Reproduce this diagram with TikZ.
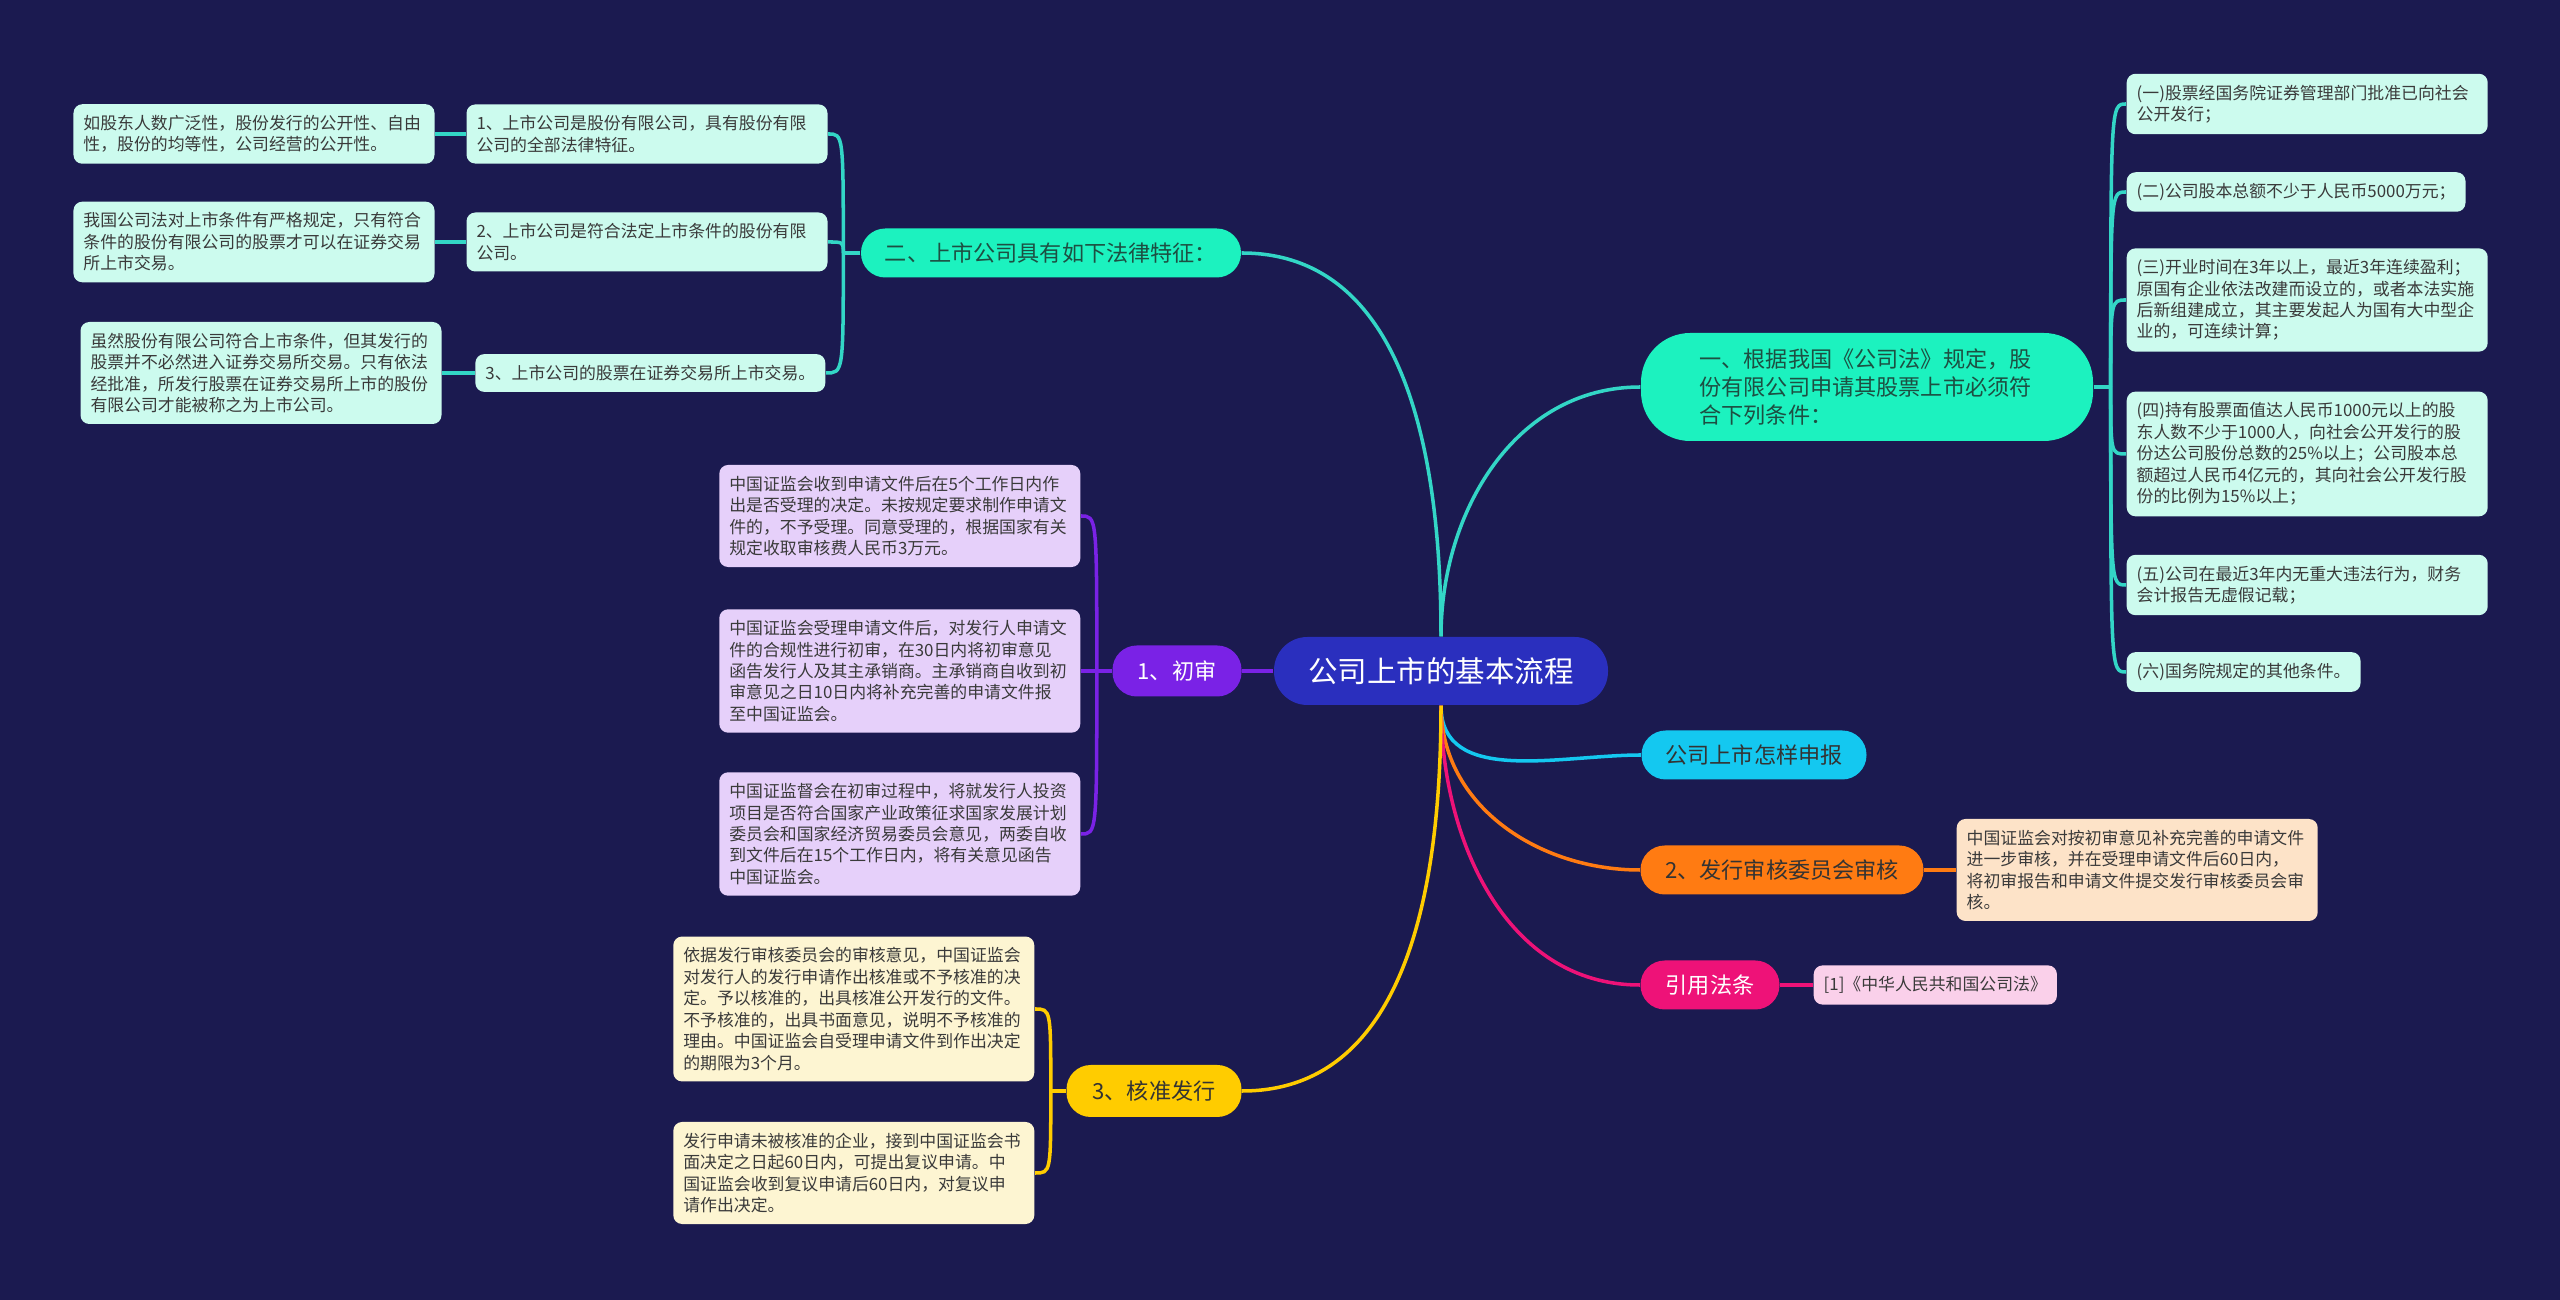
\documentclass[tikz,border=0pt]{standalone}
\usepackage{fontspec}
\setmainfont{Noto Sans CJK SC}
\usepackage{xcolor}
\usepackage{tikz}
\usetikzlibrary{arrows.meta}

\definecolor{bgnavy}{HTML}{1B1A50}
\definecolor{rootblue}{HTML}{2A2FBE}
\definecolor{mint}{HTML}{1CF2BF}
\definecolor{mintdark}{HTML}{1D4F42}
\definecolor{mintedge}{HTML}{33D6C6}
\definecolor{mintleaf}{HTML}{CCFBEE}
\definecolor{cyanfill}{HTML}{14C8F0}
\definecolor{orangefill}{HTML}{FF7B12}
\definecolor{orangeleaf}{HTML}{FDE3C8}
\definecolor{pinkfill}{HTML}{EE1278}
\definecolor{pinkleaf}{HTML}{FAD0EA}
\definecolor{purplefill}{HTML}{7A22E6}
\definecolor{purpleleaf}{HTML}{E6D0FA}
\definecolor{yellowfill}{HTML}{FFCC00}
\definecolor{yellowleaf}{HTML}{FDF5D2}
\definecolor{leaftext}{HTML}{3A3A3A}

\begin{document}
\begin{tikzpicture}[
    rootnode/.style={rectangle, rounded corners=9.5pt, fill=rootblue, text=white,
                     font=\fontsize{8.4}{10}\selectfont, minimum width=3.34cm, minimum height=0.68cm},
    branch/.style={rectangle, rounded corners=6.9pt, minimum height=0.49cm,
                   font=\fontsize{6.3}{8}\selectfont, inner xsep=0.15cm},
    leaf/.style={rectangle, rounded corners=2.5pt, align=left, text=leaftext,
                 font=\fontsize{4.8}{6.1}\selectfont, inner xsep=0.1cm, inner ysep=0.11cm},
    wide/.style={text width=3.41cm},
    edge/.style={line width=1pt}
]
\fill[bgnavy] (0,0) rectangle (25.6,-13);

\node[rootnode] (root) at (14.41,-6.71) {公司上市的基本流程};

\node[branch, fill=mint, text=mintdark, minimum width=4.52cm, minimum height=1.08cm,
      rounded corners=14pt, text width=3.35cm, align=left] (req) at (18.67,-3.87)
      {一、根据我国《公司法》规定，股\\份有限公司申请其股票上市必须符\\合下列条件：};
\node[branch, fill=mint, text=mintdark, minimum width=3.80cm] (feat) at (10.51,-2.53) {二、上市公司具有如下法律特征：};
\node[branch, fill=cyanfill, text=black!80, minimum width=2.25cm] (howto) at (17.54,-7.55) {公司上市怎样申报};
\node[branch, fill=orangefill, text=black!80, minimum width=2.83cm] (review) at (17.82,-8.70) {2、发行审核委员会审核};
\node[branch, fill=pinkfill, text=white, minimum width=1.39cm] (cite) at (17.10,-9.85) {引用法条};
\node[branch, fill=purplefill, text=white, minimum width=1.29cm, minimum height=0.51cm] (first) at (11.77,-6.71) {1、初审};
\node[branch, fill=yellowfill, text=black!80, minimum width=1.75cm, minimum height=0.52cm] (approve) at (11.54,-10.91) {3、核准发行};

\node[leaf, wide, fill=mintleaf] (featnote1) at (2.54,-1.34) {如股东人数广泛性，股份发行的公开性、自由\\性，股份的均等性，公司经营的公开性。};
\node[leaf, wide, fill=mintleaf] (feat1) at (6.47,-1.34) {1、上市公司是股份有限公司，具有股份有限\\公司的全部法律特征。};
\node[leaf, wide, fill=mintleaf] (featnote2) at (2.54,-2.42) {我国公司法对上市条件有严格规定，只有符合\\条件的股份有限公司的股票才可以在证券交易\\所上市交易。};
\node[leaf, wide, fill=mintleaf] (feat2) at (6.47,-2.42) {2、上市公司是符合法定上市条件的股份有限\\公司。};
\node[leaf, wide, fill=mintleaf] (featnote3) at (2.61,-3.73) {虽然股份有限公司符合上市条件，但其发行的\\股票并不必然进入证券交易所交易。只有依法\\经批准，所发行股票在证券交易所上市的股份\\有限公司才能被称之为上市公司。};
\node[leaf, fill=mintleaf, anchor=east] (feat3) at (8.26,-3.73) {3、上市公司的股票在证券交易所上市交易。};

\node[leaf, wide, fill=mintleaf, anchor=west] (req1) at (21.26,-1.04) {(一)股票经国务院证券管理部门批准已向社会\\公开发行；};
\node[leaf, fill=mintleaf, anchor=west] (req2) at (21.26,-1.92) {(二)公司股本总额不少于人民币5000万元；};
\node[leaf, wide, fill=mintleaf, anchor=west] (req3) at (21.26,-3.00) {(三)开业时间在3年以上，最近3年连续盈利；\\原国有企业依法改建而设立的，或者本法实施\\后新组建成立，其主要发起人为国有大中型企\\业的，可连续计算；};
\node[leaf, wide, fill=mintleaf, anchor=west] (req4) at (21.26,-4.54) {(四)持有股票面值达人民币1000元以上的股\\东人数不少于1000人，向社会公开发行的股\\份达公司股份总数的25\%以上；公司股本总\\额超过人民币4亿元的，其向社会公开发行股\\份的比例为15\%以上；};
\node[leaf, wide, fill=mintleaf, anchor=west] (req5) at (21.26,-5.85) {(五)公司在最近3年内无重大违法行为，财务\\会计报告无虚假记载；};
\node[leaf, fill=mintleaf, anchor=west] (req6) at (21.26,-6.72) {(六)国务院规定的其他条件。};

\node[leaf, wide, fill=purpleleaf, anchor=east] (first1) at (10.81,-5.16) {中国证监会收到申请文件后在5个工作日内作\\出是否受理的决定。未按规定要求制作申请文\\件的，不予受理。同意受理的，根据国家有关\\规定收取审核费人民币3万元。};
\node[leaf, wide, fill=purpleleaf, anchor=east] (first2) at (10.81,-6.71) {中国证监会受理申请文件后，对发行人申请文\\件的合规性进行初审，在30日内将初审意见\\函告发行人及其主承销商。主承销商自收到初\\审意见之日10日内将补充完善的申请文件报\\至中国证监会。};
\node[leaf, wide, fill=purpleleaf, anchor=east] (first3) at (10.81,-8.34) {中国证监督会在初审过程中，将就发行人投资\\项目是否符合国家产业政策征求国家发展计划\\委员会和国家经济贸易委员会意见，两委自收\\到文件后在15个工作日内，将有关意见函告\\中国证监会。};

\node[leaf, wide, fill=orangeleaf, anchor=west] (reviewnote) at (19.56,-8.70) {中国证监会对按初审意见补充完善的申请文件\\进一步审核，并在受理申请文件后60日内，\\将初审报告和申请文件提交发行审核委员会审\\核。};
\node[leaf, fill=pinkleaf, anchor=west] (citenote) at (18.13,-9.85) {[1]《中华人民共和国公司法》};

\node[leaf, wide, fill=yellowleaf, anchor=east] (approve1) at (10.35,-10.09) {依据发行审核委员会的审核意见，中国证监会\\对发行人的发行申请作出核准或不予核准的决\\定。予以核准的，出具核准公开发行的文件。\\不予核准的，出具书面意见，说明不予核准的\\理由。中国证监会自受理申请文件到作出决定\\的期限为3个月。};
\node[leaf, wide, fill=yellowleaf, anchor=east] (approve2) at (10.35,-11.73) {发行申请未被核准的企业，接到中国证监会书\\面决定之日起60日内，可提出复议申请。中\\国证监会收到复议申请后60日内，对复议申\\请作出决定。};

\draw[edge, mintedge] (root.north) to[out=90,in=180] (req.west);
\draw[edge, mintedge] (root.north) to[out=90,in=0] (feat.east);
\draw[edge, cyanfill] (root.south) to[out=-90,in=180] (howto.west);
\draw[edge, orangefill] (root.south) to[out=-90,in=180] (review.west);
\draw[edge, pinkfill] (root.south) to[out=-90,in=180] (cite.west);
\draw[edge, purplefill] (root.west) -- (first.east);
\draw[edge, yellowfill] (root.south) to[out=-90,in=0] (approve.east);

\draw[edge, mintedge] (req.east) -- ++(0.17,0) coordinate (reqfork);
\foreach \i in {1,...,6}
    \draw[edge, mintedge] (reqfork) .. controls (reqfork |- req\i.west) .. (req\i.west);
\draw[edge, mintedge] (feat.west) -- ++(-0.17,0) coordinate (featfork);
\foreach \i in {1,2,3} {
    \draw[edge, mintedge] (featfork) .. controls (featfork |- feat\i.east) .. (feat\i.east);
    \draw[edge, mintedge] (feat\i.west) -- (featnote\i.east);
}
\draw[edge, purplefill] (first.west) -- ++(-0.15,0) coordinate (firstfork);
\foreach \i in {1,2,3}
    \draw[edge, purplefill] (firstfork) .. controls (firstfork |- first\i.east) .. (first\i.east);
\draw[edge, yellowfill] (approve.west) -- ++(-0.15,0) coordinate (approvefork);
\foreach \i in {1,2}
    \draw[edge, yellowfill] (approvefork) .. controls (approvefork |- approve\i.east) .. (approve\i.east);
\draw[edge, orangefill] (review.east) -- (reviewnote.west);
\draw[edge, pinkfill] (cite.east) -- (citenote.west);
\end{tikzpicture}
\end{document}
